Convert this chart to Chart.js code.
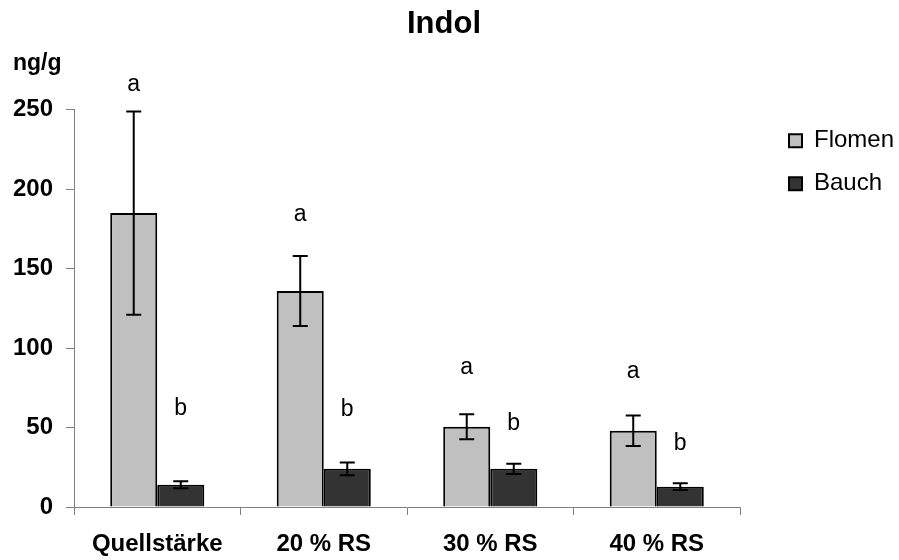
<!DOCTYPE html>
<html>
<head>
<meta charset="utf-8">
<script src="https://cdn.jsdelivr.net/npm/chart.js@4/dist/chart.umd.min.js"></script>
<style>
  body { margin: 0; background: #fff; }
</style>
</head>
<body>
<canvas id="theChart" width="899" height="560"></canvas>
<script>
'use strict';

let categories = ['Quellstärke', '20 % RS', '30 % RS', '40 % RS'];
let flomen = [185, 136, 50.5, 48];
let flomenErr = [64, 22, 7.8, 9.6];
let bauch = [14, 24, 24, 12.8];
let bauchErr = [2.2, 4, 3.3, 2.1];
let flomenLetters = ['a', 'a', 'a', 'a'];
let bauchLetters = ['b', 'b', 'b', 'b'];
// height (ng/g) where the significance letters sit
let flomenLetterAt = [266, 184, 88, 85];
let bauchLetterAt = [62, 61, 52.5, 40];
let yTicks = [0, 50, 100, 150, 200, 250];

let errors = [flomenErr, bauchErr];
let letters = [flomenLetters, bauchLetters];
let letterAt = [flomenLetterAt, bauchLetterAt];

// error bars + letters
let extras = {
    id: 'extras',
    afterLayout(chart) {
        // legend box is narrower than its text (maxWidth), widen the clip area again
        let lg = chart.legend;
        lg.right = chart.width;
        lg.width = lg.right - lg.left;
    },
    afterDatasetsDraw(chart) {
        let ctx = chart.ctx;
        let y = chart.scales.y;
        ctx.save();
        ctx.strokeStyle = '#000';
        ctx.lineWidth = 2;
        for (let d = 0; d < 2; d++) {
            let meta = chart.getDatasetMeta(d);
            let vals = chart.data.datasets[d].data;
            meta.data.forEach(function (bar, i) {
                let top = y.getPixelForValue(vals[i] + errors[d][i]);
                let bot = y.getPixelForValue(vals[i] - errors[d][i]);
                ctx.beginPath();
                ctx.moveTo(bar.x, top);
                ctx.lineTo(bar.x, bot);
                ctx.moveTo(bar.x - 7.5, top);
                ctx.lineTo(bar.x + 7.5, top);
                ctx.moveTo(bar.x - 7.5, bot);
                ctx.lineTo(bar.x + 7.5, bot);
                ctx.stroke();
            });
        }
        ctx.fillStyle = '#000';
        ctx.font = '23px "Liberation Sans", Arial, sans-serif';
        ctx.textAlign = 'center';
        ctx.textBaseline = 'middle';
        for (let d = 0; d < 2; d++) {
            let meta = chart.getDatasetMeta(d);
            meta.data.forEach(function (bar, i) {
                ctx.fillText(letters[d][i], bar.x, y.getPixelForValue(letterAt[d][i]));
            });
        }
        ctx.restore();
    }
};

let ctx = document.getElementById('theChart').getContext('2d');
let theChart = new Chart(ctx, {
    type: 'bar',
    data: {
        labels: categories,
        datasets: [{
            label: 'Flomen',
            data: flomen,
            backgroundColor: '#c0c0c0',
            borderColor: '#000',
            borderWidth: 2,
            categoryPercentage: 0.565,
            barPercentage: 1.0
        }, {
            label: 'Bauch',
            data: bauch,
            backgroundColor: '#333333',
            borderColor: '#000',
            borderWidth: 2,
            categoryPercentage: 0.565,
            barPercentage: 1.0
        }]
    },
    options: {
        responsive: false,
        animation: false,
        layout: { padding: { left: 13, right: 24, top: 0, bottom: 3 } },
        plugins: {
            title: {
                display: true,
                text: 'Indol',
                color: '#000',
                font: { family: '"Liberation Sans", Arial', size: 31, weight: 'bold' },
                padding: { top: 6, bottom: 0 }
            },
            subtitle: {
                display: true,
                text: 'ng/g',
                align: 'start',
                color: '#000',
                font: { family: '"Liberation Sans", Arial', size: 23, weight: 'bold' },
                padding: { top: 7, bottom: 32 }
            },
            legend: {
                position: 'right',
                align: 'start',
                fullSize: false,
                maxWidth: 105,
                labels: {
                    color: '#000',
                    font: { family: '"Liberation Sans", Arial', size: 24 },
                    boxWidth: 13,
                    boxHeight: 13,
                    padding: 19
                }
            },
            tooltip: { enabled: false }
        },
        scales: {
            x: {
                afterFit(scale) {
                    scale.paddingLeft = 0;
                    scale.paddingRight = 0;
                    scale.height = 50;
                },
                grid: { drawOnChartArea: false, color: '#808080', tickLength: 8 },
                border: { color: '#808080' },
                ticks: {
                    color: '#000',
                    padding: 15,
                    maxRotation: 0,
                    font: { family: '"Liberation Sans", Arial', size: 24, weight: 'bold' }
                }
            },
            y: {
                min: 0,
                max: 250,
                afterBuildTicks(scale) {
                    scale.ticks = yTicks.map(v => ({ value: v }));
                },
                afterFit(scale) {
                    scale.width = 61;
                },
                grid: { drawOnChartArea: false, color: '#808080', tickLength: 8 },
                border: { color: '#808080' },
                ticks: {
                    color: '#000',
                    padding: 13,
                    font: { family: '"Liberation Sans", Arial', size: 24, weight: 'bold' }
                }
            },
            // empty gap between plot and legend
            gap: {
                axis: 'y',
                position: 'right',
                display: true,
                grid: { display: false },
                border: { display: false },
                ticks: { display: false },
                afterFit(scale) { scale.width = 30; }
            }
        }
    },
    plugins: [extras]
});
</script>
</body>
</html>
